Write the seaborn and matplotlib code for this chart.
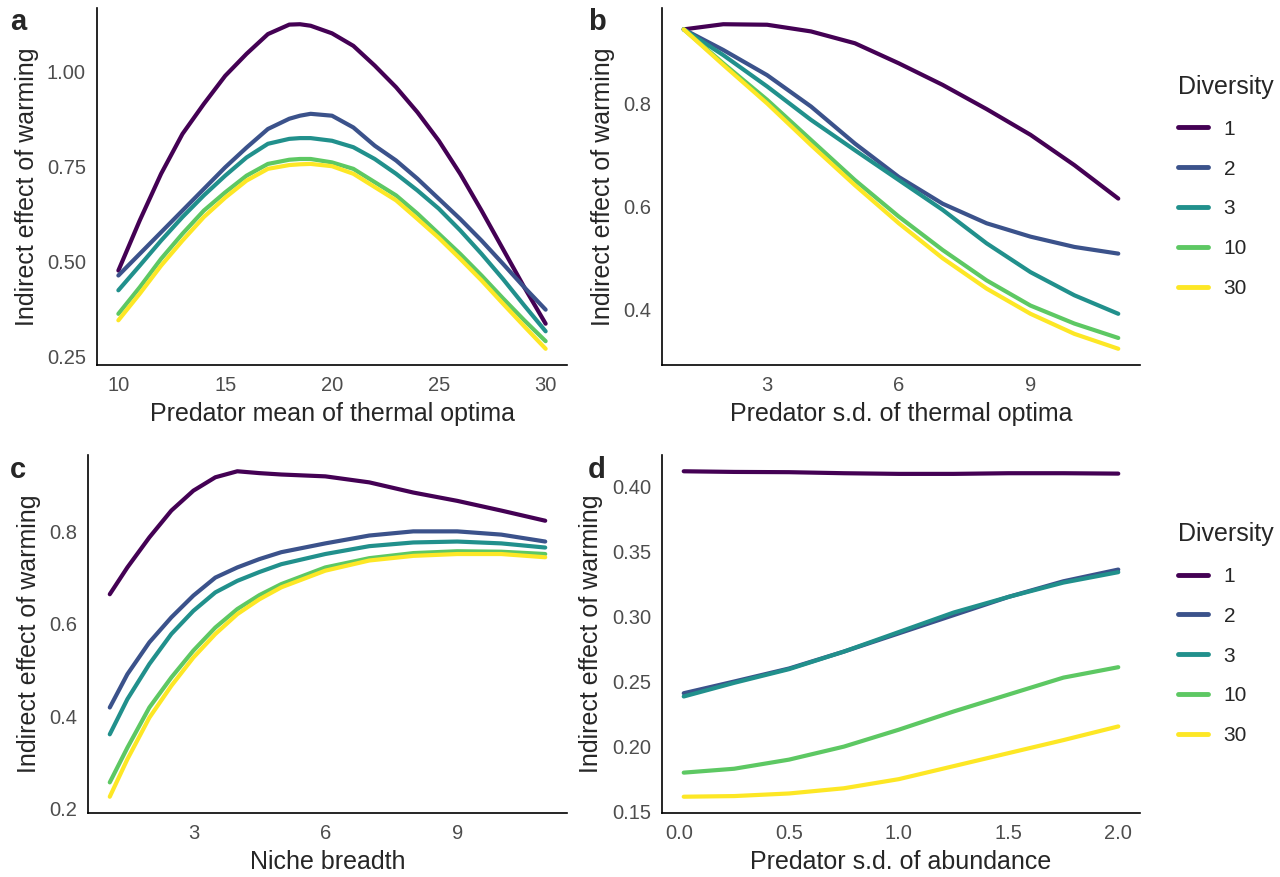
import numpy as np
import pandas as pd
import matplotlib
matplotlib.use("Agg")
import matplotlib.pyplot as plt
import seaborn as sns

# diversity levels and colours
diversity = ["1", "2", "3", "10", "30"]
colors = ["#440154", "#3B528B", "#21908C", "#5DC863", "#FDE725"]

# panel a: predator mean of thermal optima
x_a = [10, 11, 12, 13, 14, 15, 16, 17, 18, 18.5, 19, 20, 21, 22, 23, 24, 25, 26, 27, 28, 29, 30]
a_1 = [0.476, 0.608, 0.731, 0.836, 0.915, 0.989, 1.047, 1.099, 1.124, 1.125, 1.121, 1.101, 1.068,
       1.016, 0.959, 0.893, 0.818, 0.731, 0.634, 0.533, 0.432, 0.336]
a_2 = [0.463, 0.52, 0.577, 0.634, 0.691, 0.748, 0.80, 0.849, 0.876, 0.884, 0.889, 0.884, 0.853,
       0.805, 0.766, 0.718, 0.665, 0.612, 0.555, 0.494, 0.432, 0.373]
a_3 = [0.424, 0.489, 0.555, 0.617, 0.674, 0.726, 0.774, 0.81, 0.823, 0.825, 0.825, 0.818, 0.801,
       0.77, 0.731, 0.687, 0.639, 0.582, 0.52, 0.454, 0.384, 0.316]
a_10 = [0.362, 0.432, 0.507, 0.573, 0.634, 0.682, 0.726, 0.757, 0.768, 0.77, 0.77, 0.761, 0.744,
        0.709, 0.674, 0.626, 0.573, 0.52, 0.463, 0.403, 0.345, 0.29]
a_30 = [0.345, 0.415, 0.489, 0.555, 0.617, 0.668, 0.713, 0.744, 0.754, 0.756, 0.757, 0.751, 0.731,
        0.696, 0.661, 0.612, 0.562, 0.507, 0.45, 0.389, 0.329, 0.27]

# panel b: predator s.d. of thermal optima
x_b = [1.1, 2, 3, 4, 5, 6, 7, 8, 9, 10, 11]
b_1 = [0.945, 0.955, 0.954, 0.941, 0.918, 0.879, 0.837, 0.79, 0.74, 0.681, 0.616]
b_2 = [0.945, 0.905, 0.856, 0.795, 0.723, 0.658, 0.606, 0.568, 0.542, 0.522, 0.509]
b_3 = [0.945, 0.895, 0.834, 0.769, 0.71, 0.652, 0.594, 0.529, 0.473, 0.428, 0.392]
b_10 = [0.945, 0.879, 0.808, 0.73, 0.652, 0.581, 0.516, 0.457, 0.408, 0.373, 0.345]
b_30 = [0.945, 0.876, 0.801, 0.72, 0.642, 0.568, 0.50, 0.441, 0.392, 0.353, 0.324]

# panel c: niche breadth
x_c = [1.1, 1.5, 2, 2.5, 3, 3.5, 4, 4.5, 5, 6, 7, 8, 9, 10, 11]
c_1 = [0.664, 0.722, 0.787, 0.845, 0.888, 0.917, 0.93, 0.926, 0.923, 0.919, 0.906, 0.884, 0.866, 0.845, 0.823]
c_2 = [0.419, 0.491, 0.56, 0.614, 0.661, 0.70, 0.722, 0.74, 0.755, 0.774, 0.791, 0.80, 0.80, 0.793, 0.778]
c_3 = [0.361, 0.437, 0.513, 0.578, 0.628, 0.668, 0.693, 0.712, 0.729, 0.751, 0.768, 0.776, 0.778, 0.774, 0.765]
c_10 = [0.257, 0.332, 0.419, 0.484, 0.542, 0.592, 0.632, 0.662, 0.686, 0.722, 0.742, 0.753, 0.757, 0.756, 0.751]
c_30 = [0.226, 0.307, 0.397, 0.466, 0.527, 0.578, 0.621, 0.653, 0.679, 0.715, 0.737, 0.747, 0.751, 0.751, 0.744]

# panel d: predator s.d. of abundance
x_d = [0.02, 0.25, 0.5, 0.75, 1.0, 1.25, 1.5, 1.75, 2.0]
d_1 = [0.4115, 0.411, 0.4108, 0.410, 0.4095, 0.4095, 0.410, 0.410, 0.4097]
d_2 = [0.241, 0.25, 0.26, 0.273, 0.287, 0.301, 0.315, 0.327, 0.336]
d_3 = [0.2385, 0.249, 0.2595, 0.273, 0.288, 0.303, 0.315, 0.326, 0.334]
d_10 = [0.18, 0.183, 0.19, 0.20, 0.213, 0.227, 0.24, 0.253, 0.261]
d_30 = [0.1615, 0.162, 0.164, 0.168, 0.175, 0.185, 0.195, 0.205, 0.2155]


def make_df(x, series):
    rows = []
    for div, ys in zip(diversity, series):
        for xv, yv in zip(x, ys):
            rows.append({"x": xv, "y": yv, "Diversity": div})
    return pd.DataFrame(rows)


panels = [
    ("a", make_df(x_a, [a_1, a_2, a_3, a_10, a_30]), "Predator mean of thermal optima",
     [10, 15, 20, 25, 30], "{:.0f}", [0.25, 0.5, 0.75, 1.0], "{:.2f}", False),
    ("b", make_df(x_b, [b_1, b_2, b_3, b_10, b_30]), "Predator s.d. of thermal optima",
     [3, 6, 9], "{:.0f}", [0.4, 0.6, 0.8], "{:.1f}", True),
    ("c", make_df(x_c, [c_1, c_2, c_3, c_10, c_30]), "Niche breadth",
     [3, 6, 9], "{:.0f}", [0.2, 0.4, 0.6, 0.8], "{:.1f}", False),
    ("d", make_df(x_d, [d_1, d_2, d_3, d_10, d_30]), "Predator s.d. of abundance",
     [0, 0.5, 1.0, 1.5, 2.0], "{:.1f}", [0.15, 0.20, 0.25, 0.30, 0.35, 0.40], "{:.2f}", True),
]

sns.set_style("white")
plt.rcParams["font.family"] = ["Liberation Sans", "DejaVu Sans"]

fig = plt.figure(figsize=(12.8, 8.77), dpi=100)
W, H = 1280, 877
boxes = {
    "a": (97, 8, 567, 365),
    "b": (662, 8, 1140, 365),
    "c": (88, 455, 567, 813),
    "d": (662, 455, 1140, 813),
}
letter_pos = {"a": (10, 22), "b": (588, 22), "c": (10, 470), "d": (588, 470)}
palette = dict(zip(diversity, colors))

for name, df, xlabel, xt, xfmt, yt, yfmt, show_leg in panels:
    l, t, r, b = boxes[name]
    ax = fig.add_axes([l / W, 1 - b / H, (r - l) / W, (b - t) / H])
    sns.lineplot(data=df, x="x", y="y", hue="Diversity", hue_order=diversity,
                 palette=palette, linewidth=3.0, ax=ax, legend=show_leg)
    ax.margins(x=0.05, y=0.05)
    ax.set_xticks(xt)
    ax.set_xticklabels([xfmt.format(v) for v in xt])
    ax.set_yticks(yt)
    ax.set_yticklabels([yfmt.format(v) for v in yt])
    ax.set_xlabel(xlabel, fontsize=18, labelpad=5)
    ax.set_ylabel("Indirect effect of warming", fontsize=18, labelpad=6)
    ax.tick_params(axis="both", labelsize=14.5, labelcolor="#4D4D4D", color="#333333",
                   length=4, width=1, direction="out", pad=4)
    for side in ["top", "right"]:
        ax.spines[side].set_visible(False)
    for side in ["left", "bottom"]:
        ax.spines[side].set_color("black")
        ax.spines[side].set_linewidth(1.2)
    lx, ly = letter_pos[name]
    fig.text(lx / W, 1 - ly / H, name, fontsize=21, fontweight="bold", va="center", ha="left")
    if show_leg:
        sns.move_legend(ax, "upper left", bbox_to_anchor=(1.04, 0.865), frameon=False,
                        title="Diversity", fontsize=15, title_fontsize=18,
                        handlelength=1.45, labelspacing=1.0, handletextpad=0.75)
        leg = ax.get_legend()
        leg._legend_box.align = "left"
        for line in leg.get_lines():
            line.set_linewidth(3.5)

fig.savefig("out.png", dpi=100)
